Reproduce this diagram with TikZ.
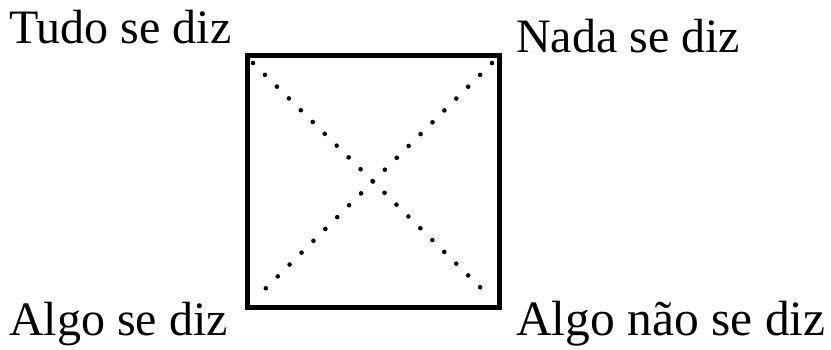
\documentclass[tikz,border=0pt]{standalone}
\usepackage{fontspec}
\setmainfont{Liberation Serif}
\begin{document}
\begin{tikzpicture}[x=1pt,y=-1pt,
  lbl/.style={anchor=base west,inner sep=0pt,font=\fontsize{48}{58}\selectfont},
  lblwide/.style={lbl,font=\fontsize{49.5}{60}\selectfont},
  frame/.style={draw,line width=5pt,minimum width=252pt,minimum height=252pt,inner sep=0pt},
  dotline/.style={line width=4.6pt,line cap=round,dash pattern=on 0pt off 16.8pt}]
\useasboundingbox (0,0) rectangle (831,349);
\node[frame] (sq) at (373.5,181.5) {};
\coordinate (tl) at (253,63);
\coordinate (tr) at (492,63);
\coordinate (bl) at (259,295);
\coordinate (br) at (488,295);
\draw[dotline] (tl) -- (br);
\draw[dotline] (tr) -- (bl);
\node[lbl] (t1) at (9,43) {Tudo se diz};
\node[lbl] (t2) at (516,52) {Nada se diz};
\node[lbl] (t3) at (9,335) {Algo se diz};
\node[lblwide] (t4) at (516,335) {Algo não se diz};
\end{tikzpicture}
\end{document}
